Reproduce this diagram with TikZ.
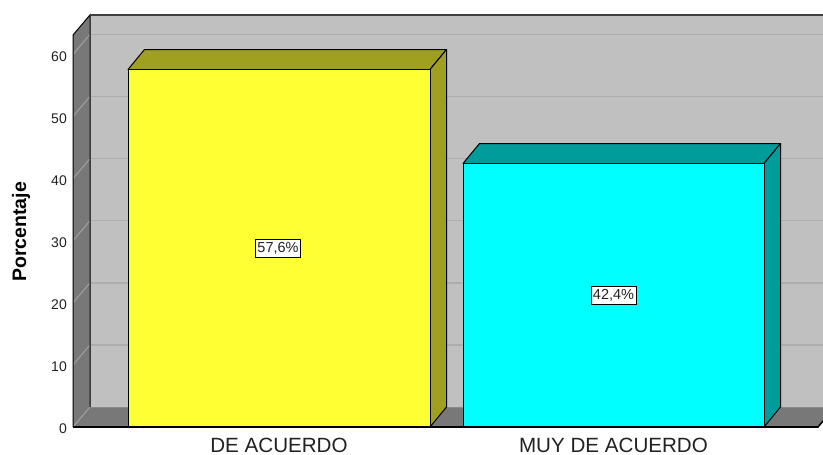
\documentclass[tikz,border=0pt]{standalone}
\usepackage{fontspec}
\setmainfont{Liberation Sans}
\definecolor{wallback}{HTML}{C0C0C0}
\definecolor{wallside}{HTML}{787878}
\definecolor{gridback}{HTML}{ADADAD}
\definecolor{gridside}{HTML}{A0A0A0}
\definecolor{yfront}{HTML}{FFFF33}
\definecolor{yside}{HTML}{A0A020}
\definecolor{cfront}{HTML}{00FFFF}
\definecolor{cside}{HTML}{009B9B}
\definecolor{txt}{HTML}{222222}
\tikzset{
  barface/.style={draw=black, line width=1pt, line join=round},
  datalabel/.style={draw=black, fill=white, line width=0.8pt, inner xsep=2pt, inner ysep=2.8pt, text=txt, font=\fontsize{14.5}{16}\selectfont},
  ticklabel/.style={anchor=east, text=txt, inner sep=0pt, font=\fontsize{14}{16}\selectfont},
  catlabel/.style={text=txt, inner sep=0pt, font=\fontsize{20.6}{22}\selectfont},
  axistitle/.style={text=black, inner sep=0pt, rotate=90, font=\fontsize{19.5}{21}\selectfont\bfseries}
}
\begin{document}
\begin{tikzpicture}[x=1pt,y=-1pt]
\useasboundingbox (0,0) rectangle (823,455);
\clip (0,0) rectangle (823,455);
\fill[white] (0,0) rectangle (823,455);
% walls
\fill[wallback] (90,15) rectangle (860,407);
\fill[wallside] (73,427) -- (73,35) -- (90,15) -- (90,407) -- cycle;
\fill[wallside] (73,427) -- (90,407) -- (835,407) -- (818,427) -- cycle;
% grid
\foreach \k in {1,...,6}{
  \pgfmathsetmacro{\yb}{407-62.1*\k}
  \draw[gridback, line width=1.5pt] (90,\yb) -- (860,\yb);
  \draw[gridside, line width=1pt] (73,\yb+20) -- (90,\yb);
}
\draw[gridside, line width=1pt] (73,427) -- (90,407);
\draw[gridback!80!black, line width=1pt] (90,407) -- (835,407);
% wall outlines
\draw[black, line width=1pt] (73,427) -- (73,35) -- (90,15) -- (90,407);
\draw[black!75, line width=1.5pt] (90,15) -- (860,15);
\draw[black, line width=1.5pt] (73,427) -- (818,427) -- (835,407);
% yellow bar
\def\ytop{69.5}
\filldraw[barface, fill=yside] (128,\ytop) -- (144.5,\ytop-20) -- (446.5,\ytop-20) -- (430,\ytop) -- cycle;
\filldraw[barface, fill=yside] (430,\ytop) -- (446.5,\ytop-20) -- (446.5,407) -- (430,427) -- cycle;
\filldraw[barface, fill=yfront] (128,427) rectangle (430,\ytop);
% cyan bar
\def\ctop{163.5}
\filldraw[barface, fill=cside] (463,\ctop) -- (479.5,\ctop-20) -- (780.5,\ctop-20) -- (764,\ctop) -- cycle;
\filldraw[barface, fill=cside] (764,\ctop) -- (780.5,\ctop-20) -- (780.5,407) -- (764,427) -- cycle;
\filldraw[barface, fill=cfront] (463,427) rectangle (764,\ctop);
\draw[black, line width=1.5pt] (73,427) -- (818,427);
% data labels
\node[datalabel] (lab1) at (278,248.5) {57,6\%};
\node[datalabel] (lab2) at (613.5,295.5) {42,4\%};
% tick labels
\foreach \v [count=\i from 0] in {0,10,20,30,40,50,60}{
  \node[ticklabel] (tick\i) at (67,429-62.1*\i) {\v};
}
% category labels
\node[catlabel] (cat1) at (279,445) {DE ACUERDO};
\node[catlabel] (cat2) at (613.5,445) {MUY DE ACUERDO};
% axis title
\node[axistitle] (ytitle) at (21,232) {Porcentaje};
\end{tikzpicture}
\end{document}
